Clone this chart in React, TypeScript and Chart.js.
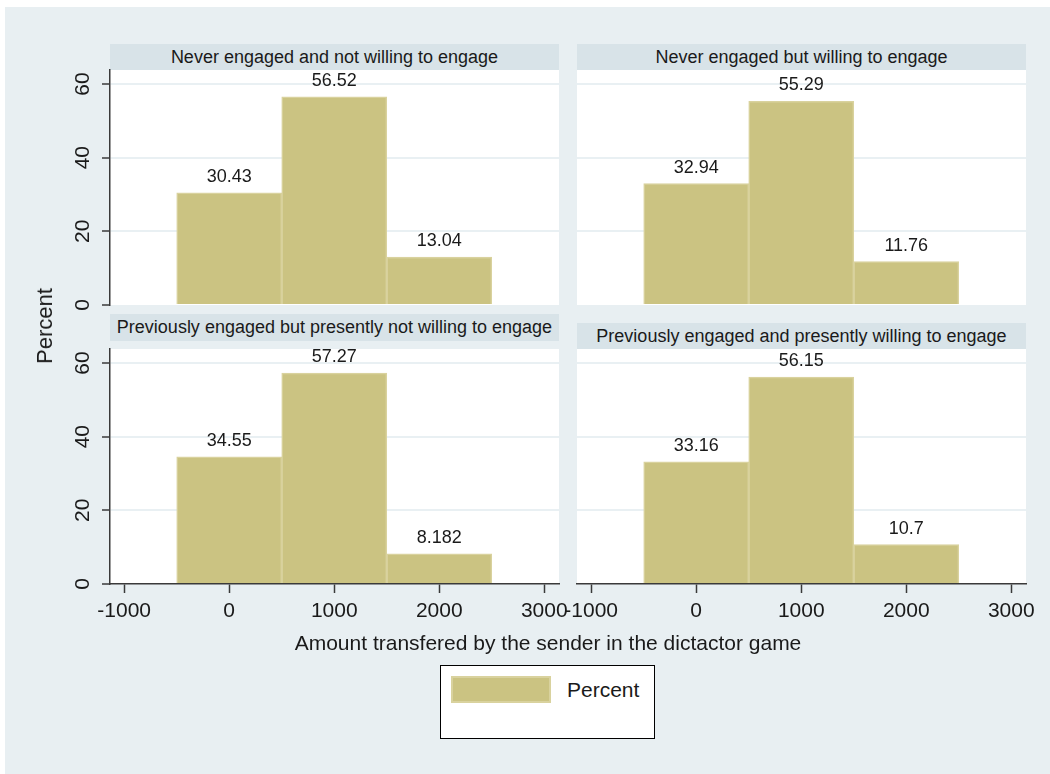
import React, { useEffect, useRef } from "react";
import { Chart, registerables } from "chart.js";

Chart.register(...registerables);

// ---------------- data ----------------
const binCenters = [0, 1000, 2000];
const neverNotWilling = [30.43, 56.52, 13.04];
const neverWilling = [32.94, 55.29, 11.76];
const prevNotWilling = [34.55, 57.27, 8.182];
const prevWilling = [33.16, 56.15, 10.7];
const panelTitles = [
  "Never engaged and not willing to engage",
  "Never engaged but willing to engage",
  "Previously engaged but presently not willing to engage",
  "Previously engaged and presently willing to engage",
];
const yTickValues = [0, 20, 40, 60];
const xTickValues = [-1000, 0, 1000, 2000, 3000];
const yMin = 0;
const yMax = 63.8;
const xMin = -1135;
const xMax = 3140;
const xTitle = "Amount transfered by the sender in the dictactor game";
const yTitle = "Percent";
const legendLabel = "Percent";

// ---------------- styles ----------------
const FONT = "'Liberation Sans', Arial, Helvetica, sans-serif";
const BG = "#e8eff2";
const HEADER = "#d8e3e8";
const BAR = "#cbc382";
const BAR_EDGE = "#d9d29e";
const GRID = "#e9f0f3";
const AXIS = "#3a3a3a";
const TEXT = "#1a1a1a";

Chart.defaults.font.family = FONT;

const fmt = (v: number) => String(Number(v.toPrecision(4)));

const plotBg = {
  id: "plotBg",
  beforeDraw(chart: any) {
    const { ctx, chartArea: a } = chart;
    ctx.save();
    ctx.fillStyle = "#ffffff";
    ctx.fillRect(a.left, a.top, a.right - a.left, a.bottom - a.top);
    ctx.restore();
  },
};

const valueLabels = {
  id: "valueLabels",
  afterDatasetsDraw(chart: any) {
    const { ctx } = chart;
    const meta = chart.getDatasetMeta(0);
    const data = chart.data.datasets[0].data as any[];
    ctx.save();
    ctx.font = `18px ${FONT}`;
    ctx.fillStyle = TEXT;
    ctx.textAlign = "center";
    ctx.textBaseline = "alphabetic";
    meta.data.forEach((el: any, i: number) => {
      ctx.fillText(fmt(data[i].y), el.x, el.y - 11);
    });
    ctx.restore();
  },
};

type Box = { left: number; top: number; width: number; height: number };

function Panel(props: {
  values: number[];
  box: Box;
  padTop: number;
  padRight: number;
  padBottom: number;
  yAxisWidth: number;
  showYAxis: boolean;
  showXAxis: boolean;
  xAxisHeight: number;
}) {
  const ref = useRef<HTMLCanvasElement | null>(null);
  useEffect(() => {
    if (!ref.current) return;
    const { values, showYAxis, showXAxis } = props;
    const chart = new Chart(ref.current, {
      type: "bar",
      data: {
        datasets: [
          {
            label: legendLabel,
            data: binCenters.map((x, i) => ({ x, y: values[i] })),
            backgroundColor: BAR,
            borderColor: BAR_EDGE,
            borderWidth: 1.5,
            barPercentage: 1,
            categoryPercentage: 1,
          },
        ],
      } as any,
      options: {
        animation: false,
        responsive: false,
        maintainAspectRatio: false,
        layout: {
          padding: { top: props.padTop, right: props.padRight, bottom: props.padBottom, left: 0 },
        },
        plugins: {
          legend: { display: false },
          tooltip: { enabled: false },
          title: { display: false },
        },
        scales: {
          x: {
            type: "linear",
            min: xMin,
            max: xMax,
            offset: false,
            display: showXAxis,
            grid: {
              offset: false,
              drawOnChartArea: false,
              drawTicks: true,
              tickLength: 9,
              tickColor: AXIS,
              tickWidth: 1.5,
            },
            border: { display: true, color: AXIS, width: 1.5 },
            ticks: {
              autoSkip: false,
              maxRotation: 0,
              minRotation: 0,
              padding: 6,
              color: TEXT,
              font: { size: 21, family: FONT },
              callback: (v: any) => String(v),
            },
            afterBuildTicks: (s: any) => {
              s.ticks = xTickValues.map((v) => ({ value: v }));
            },
            afterFit: (s: any) => {
              s.height = showXAxis ? props.xAxisHeight : 0;
              s.paddingLeft = 0;
              s.paddingRight = 0;
            },
          },
          y: {
            min: yMin,
            max: yMax,
            display: true,
            grid: {
              color: (c: any) => (c.tick && c.tick.value === 0 ? "rgba(0,0,0,0)" : GRID),
              lineWidth: 2,
              drawTicks: showYAxis,
              tickLength: 8,
              tickColor: AXIS,
              tickWidth: 1.5,
            },
            border: { display: showYAxis, color: AXIS, width: 1.5 },
            ticks: {
              display: showYAxis,
              minRotation: 90,
              maxRotation: 90,
              crossAlign: "center",
              padding: 7,
              color: TEXT,
              font: { size: 21, family: FONT },
              callback: (v: any) => String(v),
            },
            afterBuildTicks: (s: any) => {
              s.ticks = yTickValues.map((v) => ({ value: v }));
            },
            afterFit: (s: any) => {
              s.width = props.yAxisWidth;
              s.paddingTop = 0;
              s.paddingBottom = 0;
            },
          },
        },
      } as any,
      plugins: [plotBg, valueLabels],
    });
    return () => chart.destroy();
  }, []);
  const b = props.box;
  return (
    <canvas
      ref={ref}
      width={b.width}
      height={b.height}
      style={{ position: "absolute", left: b.left, top: b.top, width: b.width, height: b.height }}
    />
  );
}

function Header(props: { text: string; left: number; top: number; width: number; height: number }) {
  return (
    <div
      style={{
        position: "absolute",
        left: props.left,
        top: props.top,
        width: props.width,
        height: props.height,
        lineHeight: props.height + "px",
        background: HEADER,
        color: TEXT,
        fontFamily: FONT,
        fontSize: 18,
        textAlign: "center",
        whiteSpace: "nowrap",
        overflow: "hidden",
      }}
    >
      {props.text}
    </div>
  );
}

export default function App() {
  return (
    <div style={{ position: "absolute", left: 0, top: 0, width: 1050, height: 774, background: "#ffffff", overflow: "hidden" }}>
      <div style={{ position: "absolute", left: 5, top: 7, width: 1045, height: 767, background: BG }} />

      <Header text={panelTitles[0]} left={110} top={44} width={449} height={26} />
      <Header text={panelTitles[1]} left={577} top={44} width={449} height={26} />
      <Header text={panelTitles[2]} left={110} top={314} width={449} height={27} />
      <Header text={panelTitles[3]} left={577} top={323} width={449} height={26} />

      <Panel values={neverNotWilling} box={{ left: 50, top: 60, width: 530, height: 260 }} padTop={10} padRight={21} padBottom={15} yAxisWidth={60} showYAxis={true} showXAxis={false} xAxisHeight={0} />
      <Panel values={neverWilling} box={{ left: 560, top: 60, width: 490, height: 260 }} padTop={10} padRight={24} padBottom={15} yAxisWidth={17} showYAxis={false} showXAxis={false} xAxisHeight={0} />
      <Panel values={prevNotWilling} box={{ left: 50, top: 339, width: 530, height: 301 }} padTop={10} padRight={21} padBottom={0} yAxisWidth={60} showYAxis={true} showXAxis={true} xAxisHeight={56} />
      <Panel values={prevWilling} box={{ left: 560, top: 339, width: 490, height: 301 }} padTop={10} padRight={24} padBottom={0} yAxisWidth={17} showYAxis={false} showXAxis={true} xAxisHeight={56} />

      <div
        style={{
          position: "absolute",
          left: 45,
          top: 326,
          transform: "translate(-50%, -50%) rotate(-90deg)",
          fontFamily: FONT,
          fontSize: 22,
          lineHeight: "26px",
          color: TEXT,
          whiteSpace: "nowrap",
        }}
      >
        {yTitle}
      </div>

      <div
        style={{
          position: "absolute",
          left: 548,
          top: 631,
          transform: "translateX(-50%)",
          fontFamily: FONT,
          fontSize: 21,
          lineHeight: "24px",
          color: TEXT,
          whiteSpace: "nowrap",
        }}
      >
        {xTitle}
      </div>

      <div
        style={{
          position: "absolute",
          left: 440,
          top: 665,
          width: 215,
          height: 74,
          boxSizing: "border-box",
          border: "1px solid #000",
          background: "#ffffff",
        }}
      >
        <div
          style={{
            position: "absolute",
            left: 10,
            top: 10,
            width: 100,
            height: 27,
            boxSizing: "border-box",
            background: BAR,
            border: `2px solid ${BAR_EDGE}`,
          }}
        />
        <div
          style={{
            position: "absolute",
            left: 126,
            top: 11,
            fontFamily: FONT,
            fontSize: 21,
            lineHeight: "26px",
            color: TEXT,
            whiteSpace: "nowrap",
          }}
        >
          {legendLabel}
        </div>
      </div>
    </div>
  );
}
